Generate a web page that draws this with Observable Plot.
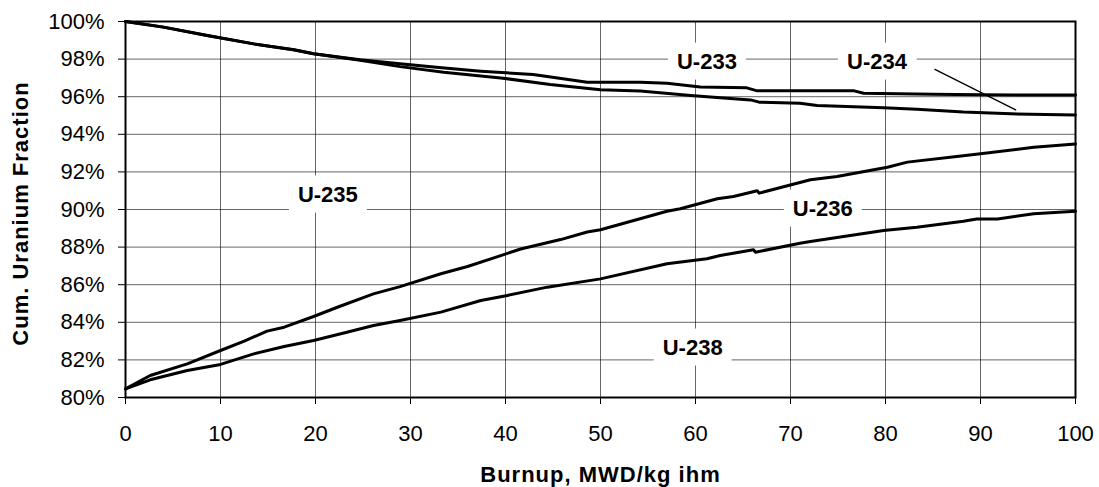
<!DOCTYPE html>
<html>
<head>
<meta charset="utf-8">
<script src="https://cdn.jsdelivr.net/npm/d3@7"></script>
<script src="https://cdn.jsdelivr.net/npm/@observablehq/plot@0.6"></script>
<style>
  html, body { margin: 0; padding: 0; background: #fff; }
  svg { font-family: "Liberation Sans", Arial, sans-serif; }
</style>
</head>
<body>
<div id="chart"></div>
<script>
// Tick values
const xTicks = [0, 10, 20, 30, 40, 50, 60, 70, 80, 90, 100];
const yTicks = [80, 82, 84, 86, 88, 90, 92, 94, 96, 98, 100];

// Upper boundary curve (ends ~96.1%)
const s1Burnup = [0, 4, 8.6, 13.5, 17.7, 19.8, 24.7, 28.9, 33, 37.4, 42.9, 45.5, 48.6, 54.2, 57, 60.5, 65.4, 66.5, 71, 76.7, 77.7, 85, 90, 100];
const s1Frac   = [100, 99.7, 99.26, 98.81, 98.5, 98.28, 97.96, 97.75, 97.55, 97.36, 97.18, 97.0, 96.77, 96.77, 96.71, 96.52, 96.47, 96.31, 96.31, 96.31, 96.18, 96.13, 96.1, 96.09];

// Second curve from top (ends ~95.0%)
const s2Burnup = [0, 4, 8.6, 13.5, 17.7, 19.8, 24.7, 28.9, 33.5, 39.5, 44.7, 50, 54.2, 59.5, 64, 65.8, 66.7, 71, 72.8, 79.8, 83.3, 88.2, 93.2, 100];
const s2Frac   = [100, 99.7, 99.26, 98.81, 98.5, 98.28, 97.94, 97.6, 97.3, 97.0, 96.65, 96.37, 96.3, 96.06, 95.89, 95.83, 95.71, 95.65, 95.53, 95.41, 95.33, 95.18, 95.09, 95.03];

// Third curve (rising, ends ~93.5%)
const s3Burnup = [0, 2.6, 6.5, 10, 12.5, 14.9, 16.7, 19.8, 22.3, 26.1, 28.9, 33.2, 36, 39.5, 41.6, 45.8, 48.6, 50, 57, 58.4, 62.3, 64, 66.5, 66.7, 72.1, 74.9, 80.2, 82.3, 87.5, 90, 95.6, 100];
const s3Frac   = [80.46, 81.17, 81.79, 82.5, 83.0, 83.53, 83.74, 84.31, 84.8, 85.51, 85.9, 86.58, 86.97, 87.55, 87.9, 88.4, 88.8, 88.92, 89.91, 90.04, 90.57, 90.69, 91.0, 90.87, 91.58, 91.76, 92.25, 92.52, 92.82, 92.96, 93.31, 93.49];

// Lowest curve (rising, ends ~89.9%)
const s4Burnup = [0, 2.6, 6.5, 10, 13.5, 16.7, 19.8, 23.3, 26.1, 28.9, 33.2, 37.4, 40.2, 44.4, 50, 57, 61.2, 62.6, 66.1, 66.3, 71, 72.1, 79.8, 83.3, 88.2, 89.6, 91.8, 95.6, 100];
const s4Frac   = [80.46, 80.94, 81.44, 81.76, 82.32, 82.71, 83.03, 83.47, 83.83, 84.1, 84.54, 85.16, 85.43, 85.87, 86.31, 87.11, 87.38, 87.55, 87.86, 87.73, 88.2, 88.3, 88.88, 89.06, 89.38, 89.5, 89.5, 89.77, 89.91];

// Isotope labels
const labelText = ["U-233", "U-234", "U-235", "U-236", "U-238"];
const labelX    = [61.2, 79.1, 21.3, 73.4, 59.7];
const labelY    = [97.87, 97.87, 90.8, 90.05, 82.66];

// Leader line for U-234
const leaderX = [85.2, 93.7];
const leaderY = [97.45, 95.3];

const series = [
  ["s1", s1Burnup, s1Frac],
  ["s2", s2Burnup, s2Frac],
  ["s3", s3Burnup, s3Frac],
  ["s4", s4Burnup, s4Frac]
];
const rows = series.flatMap(([name, xs, ys]) => xs.map((x, i) => ({series: name, x, y: ys[i]})));
const labels = labelText.map((t, i) => ({text: t, x: labelX[i], y: labelY[i]}));
const leader = leaderX.map((x, i) => ({x, y: leaderY[i]}));

const chart = Plot.plot({
  width: 1099,
  height: 487,
  marginLeft: 125,
  marginRight: 24,
  marginTop: 21,
  marginBottom: 90,
  style: {fontFamily: "Liberation Sans, Arial, sans-serif", background: "#fff"},
  x: {domain: [0, 100]},
  y: {domain: [80, 100]},
  marks: [
    Plot.gridX(xTicks, {stroke: "#000", strokeOpacity: 0.6, strokeWidth: 1}),
    Plot.gridY(yTicks, {stroke: "#000", strokeOpacity: 0.6, strokeWidth: 1}),
    Plot.line(rows, {x: "x", y: "y", z: "series", stroke: "#000", strokeWidth: 3, strokeLinejoin: "round"}),
    Plot.line(leader, {x: "x", y: "y", stroke: "#000", strokeWidth: 1.3}),
    Plot.text(labels, {x: "x", y: "y", text: "text", fontSize: 22, fontWeight: "bold", fill: "#000"}),
    Plot.frame({stroke: "#000", strokeWidth: 2}),
    Plot.axisX({ticks: xTicks, tickSize: 7, tickPadding: 21, fontSize: 22, label: null, tickFormat: d => String(d), stroke: "#000"}),
    Plot.axisY({ticks: yTicks, tickSize: 7, tickPadding: 14, fontSize: 22, label: null, tickFormat: d => d + "%", stroke: "#000"}),
    Plot.text(["Burnup, MWD/kg ihm"], {frameAnchor: "bottom", dy: 77, fontSize: 22, fontWeight: "bold", lineAnchor: "middle"}),
    Plot.text(["Cum. Uranium Fraction"], {frameAnchor: "left", dx: -105, dy: 4, rotate: -90, textAnchor: "middle", fontSize: 22, fontWeight: "bold", lineAnchor: "middle"})
  ]
});

document.getElementById("chart").appendChild(chart);

// letter spacing on axis titles
chart.querySelectorAll("text").forEach(t => {
  const s = t.textContent;
  if (s === "Burnup, MWD/kg ihm" || s === "Cum. Uranium Fraction") t.setAttribute("letter-spacing", "1");
});

// white boxes behind isotope labels
chart.querySelectorAll("text").forEach(t => {
  if (labelText.includes(t.textContent)) {
    const b = t.getBBox();
    const r = document.createElementNS("http://www.w3.org/2000/svg", "rect");
    const padX = 9, padY = 6;
    r.setAttribute("x", b.x - padX);
    r.setAttribute("y", b.y - padY);
    r.setAttribute("width", b.width + 2 * padX);
    r.setAttribute("height", b.height + 2 * padY);
    r.setAttribute("fill", "#fff");
    const tr = t.getAttribute("transform");
    if (tr) r.setAttribute("transform", tr);
    t.parentNode.insertBefore(r, t);
  }
});
</script>
</body>
</html>
